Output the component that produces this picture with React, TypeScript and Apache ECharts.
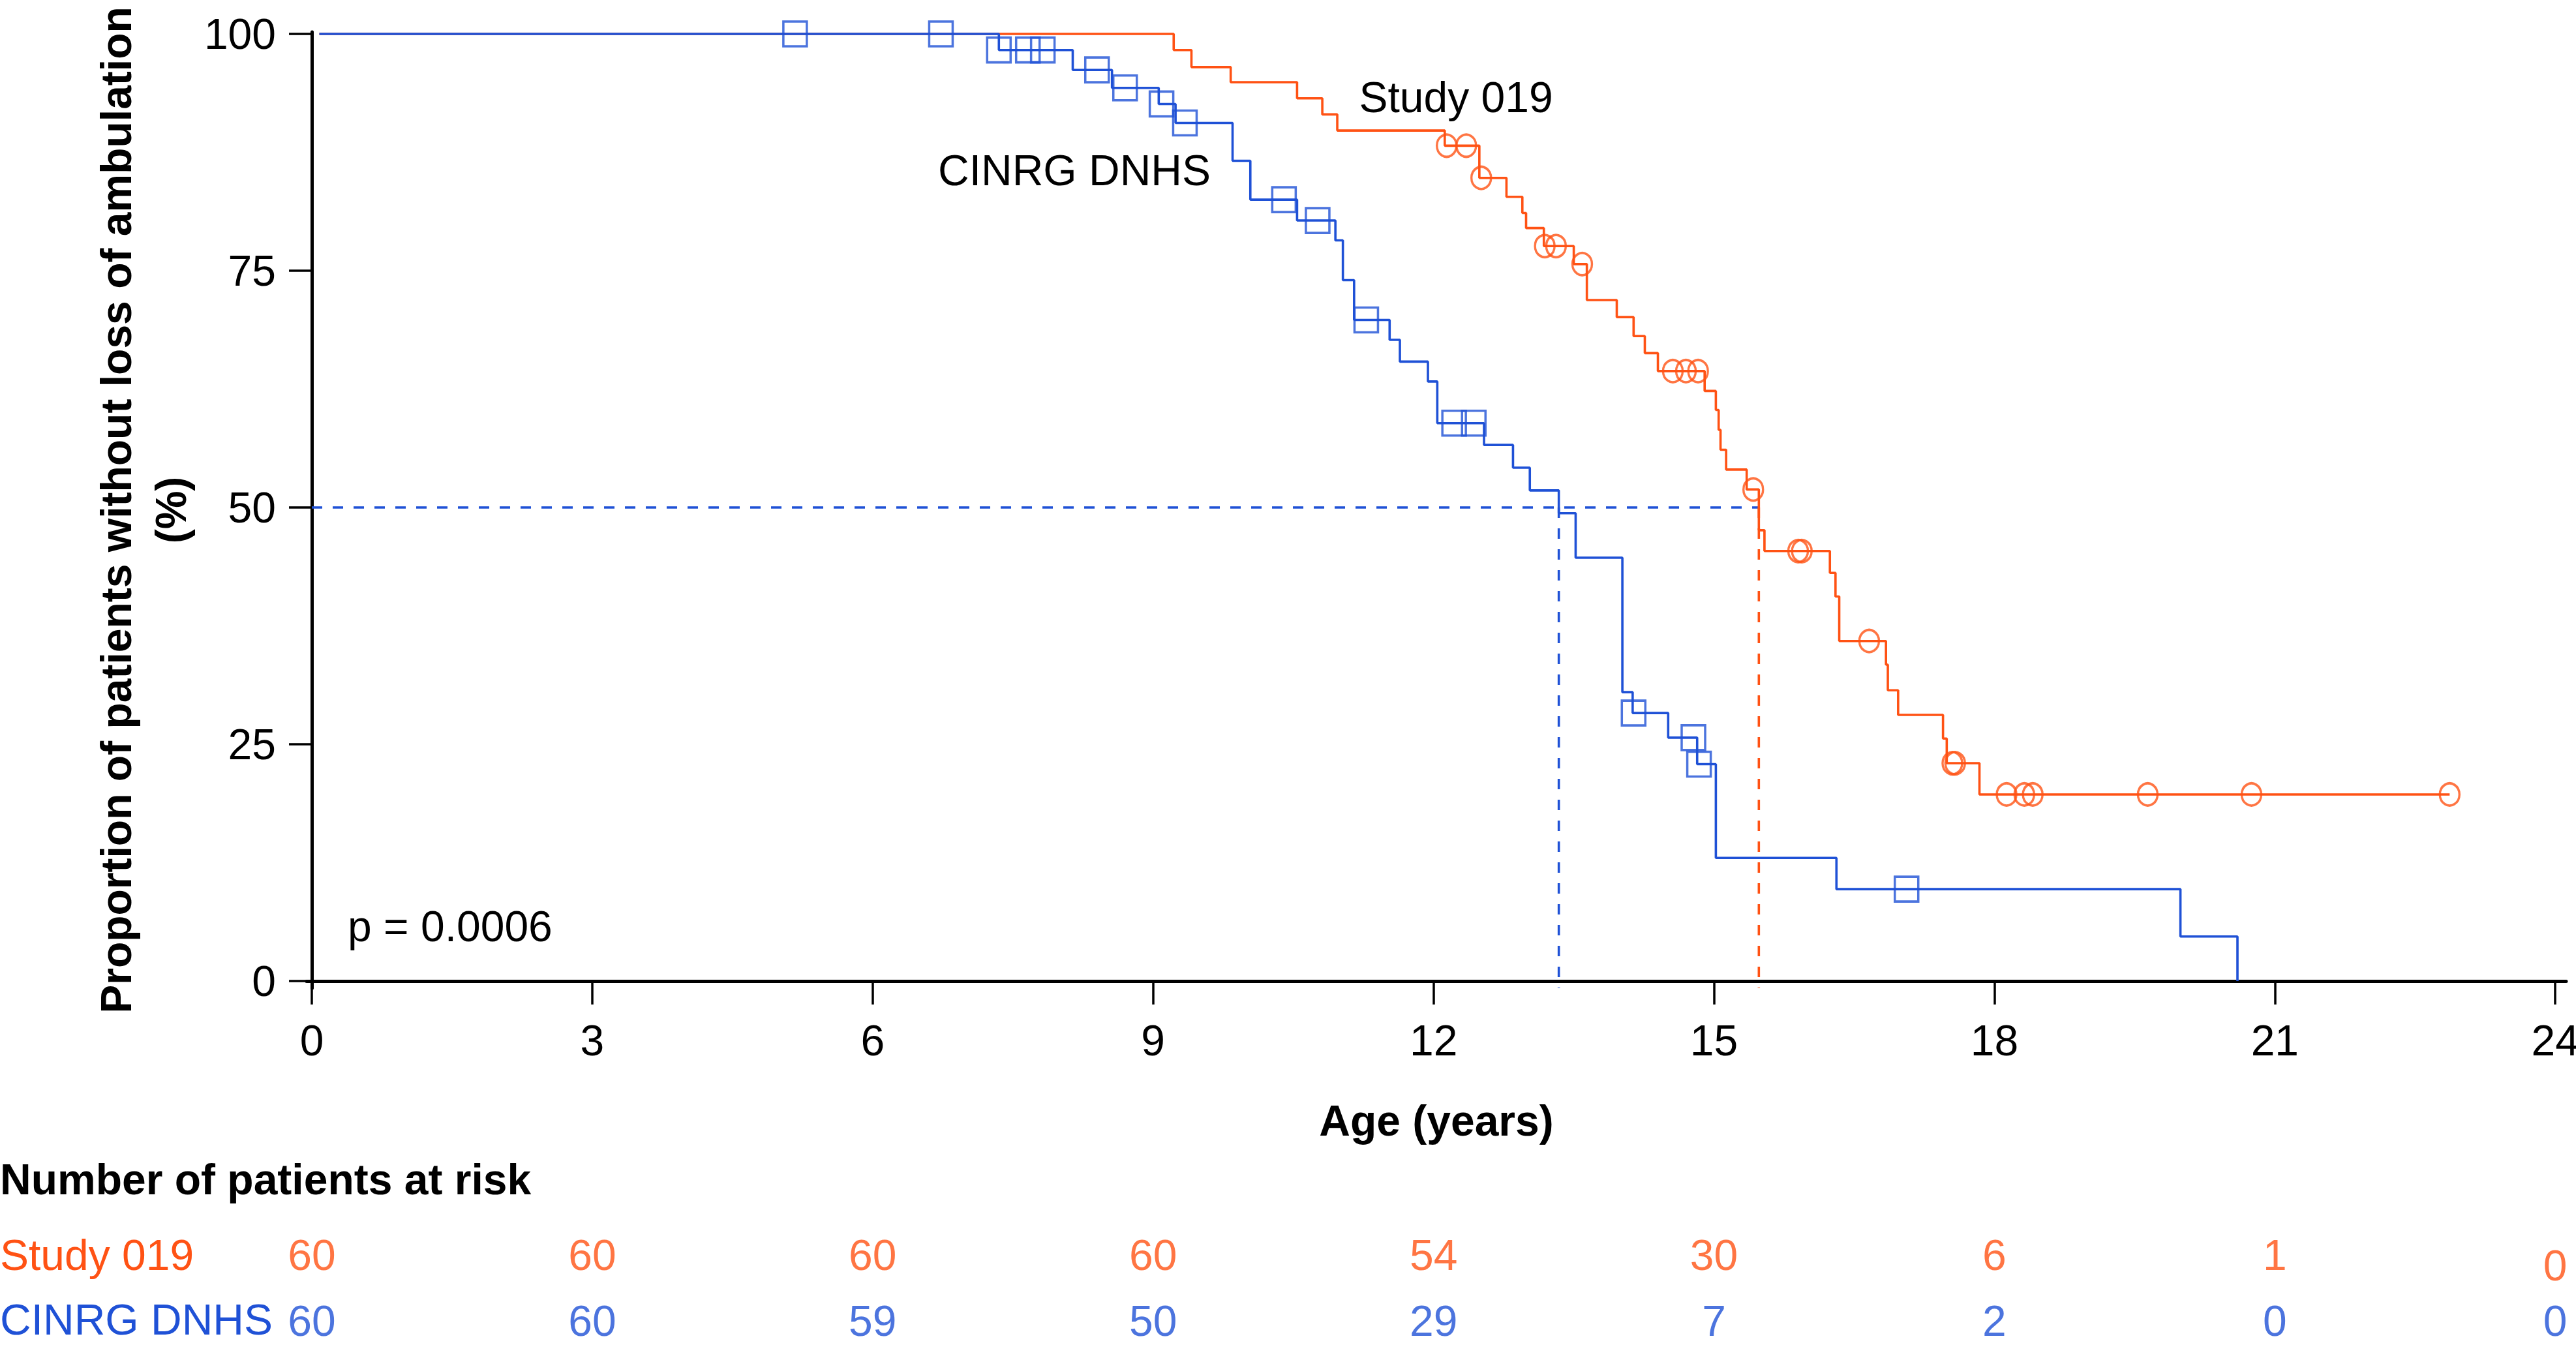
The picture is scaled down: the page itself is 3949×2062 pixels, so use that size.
import React, { useEffect, useRef } from "react";
import * as echarts from "echarts";

// ---------- data ----------
// Kaplan-Meier steps: time (years) and proportion (%) after each step
const CINRG_TIMES = [0.08, 7.35, 8.14, 8.56, 9.06, 9.24, 9.85, 10.04, 10.54, 10.95, 11.03, 11.15, 11.53, 11.64, 11.94, 12.04, 12.54, 12.85, 13.03, 13.34, 13.52, 14.02, 14.13, 14.51, 14.82, 15.02, 16.31, 19.99, 20.6];
const CINRG_SURV = [100, 98.3, 96.2, 94.3, 92.6, 90.6, 86.6, 82.5, 80.3, 78.2, 74.0, 69.8, 67.7, 65.4, 63.3, 58.9, 56.6, 54.2, 51.8, 49.4, 44.7, 30.5, 28.3, 25.7, 22.9, 13.0, 9.7, 4.7, 0];

const STUDY_TIMES = [0.08, 9.22, 9.41, 9.83, 10.54, 10.81, 10.97, 12.12, 12.49, 12.78, 12.95, 12.99, 13.18, 13.5, 13.64, 13.96, 14.14, 14.26, 14.4, 14.9, 15.02, 15.05, 15.07, 15.13, 15.35, 15.48, 15.54, 16.24, 16.3, 16.34, 16.84, 16.86, 16.97, 17.45, 17.49, 17.84, 22.87];
const STUDY_SURV = [100, 98.3, 96.5, 94.9, 93.2, 91.5, 89.8, 88.2, 84.8, 82.8, 81.1, 79.5, 77.6, 75.7, 71.9, 70.1, 68.1, 66.3, 64.4, 62.3, 60.3, 58.2, 56.1, 54.0, 51.9, 47.6, 45.4, 43.1, 40.6, 35.9, 33.4, 30.7, 28.1, 25.6, 23.0, 19.7, 19.7];

// censored observations
const CINRG_CENS_T = [5.17, 6.73, 7.35, 7.66, 7.82, 8.4, 8.7, 9.09, 9.34, 10.4, 10.76, 11.28, 12.22, 12.43, 14.14, 14.78, 14.84, 17.06];
const CINRG_CENS_S = [100, 100, 98.3, 98.3, 98.3, 96.2, 94.3, 92.6, 90.6, 82.5, 80.3, 69.8, 58.9, 58.9, 28.3, 25.7, 22.9, 9.7];

const STUDY_CENS_T = [12.14, 12.35, 12.51, 13.19, 13.31, 13.59, 14.56, 14.7, 14.83, 15.42, 15.9, 15.94, 16.66, 17.55, 17.58, 18.13, 18.32, 18.41, 19.64, 20.75, 22.87];
const STUDY_CENS_S = [88.2, 88.2, 84.8, 77.6, 77.6, 75.7, 64.4, 64.4, 64.4, 51.9, 45.4, 45.4, 35.9, 23.0, 23.0, 19.7, 19.7, 19.7, 19.7, 19.7, 19.7];

// medians
const MEDIAN_CINRG = 13.34;
const MEDIAN_STUDY = 15.48;
const MEDIAN_LEVEL = 50;

// axis ticks
const X_TICKS = [0, 3, 6, 9, 12, 15, 18, 21, 24];
const Y_TICKS = [0, 25, 50, 75, 100];

// number at risk
const RISK_TIMES = [0, 3, 6, 9, 12, 15, 18, 21, 24];
const RISK_STUDY = [60, 60, 60, 60, 54, 30, 6, 1, 0];
const RISK_CINRG = [60, 60, 59, 50, 29, 7, 2, 0, 0];

// ---------- styling ----------
const W = 3949;
const H = 2062;
const ORANGE = "#FF5214";
const BLUE = "#1F51D6";
const FONT = "'Liberation Sans', Arial, Helvetica, sans-serif";
const FS = 66;
const LW = 3.6;

const X_MIN = -0.056;
const X_MAX = 24.117;
const Y_MIN = -0.758;
const Y_MAX = 100.207;

function buildOption(): any {
  const pairs = (t: number[], s: number[]) => t.map((v, i) => [v, s[i]]);

  const axisCommon = {
    type: "value",
    splitLine: { show: false },
    axisLine: { show: true, lineStyle: { color: "#000", width: 5 } },
  };

  return {
    animation: false,
    backgroundColor: "#fff",
    grid: [
      { left: 470, right: 15, top: 49, bottom: 547, containLabel: false, outerBoundsMode: "none" },
      { left: 470, right: 15, top: 1923.5, bottom: 37.5, containLabel: false, outerBoundsMode: "none" },
    ],
    xAxis: [
      {
        ...axisCommon,
        gridIndex: 0,
        min: X_MIN,
        max: X_MAX,
        axisTick: { show: true, length: 36, lineStyle: { color: "#000", width: 3.5 }, customValues: X_TICKS },
        axisLabel: { show: true, customValues: X_TICKS, fontSize: FS, fontFamily: FONT, color: "#000", margin: 47 },
        name: "Age (years)",
        nameLocation: "middle",
        nameGap: 170,
        nameMoveOverlap: false,
        nameTextStyle: { fontSize: FS, fontWeight: "bold", fontFamily: FONT, color: "#000" },
      },
      {
        type: "value",
        gridIndex: 1,
        min: X_MIN,
        max: X_MAX,
        show: false,
      },
    ],
    yAxis: [
      {
        ...axisCommon,
        gridIndex: 0,
        min: Y_MIN,
        max: Y_MAX,
        axisTick: { show: true, length: 35, lineStyle: { color: "#000", width: 3.5 }, customValues: Y_TICKS },
        axisLabel: { show: true, customValues: Y_TICKS, fontSize: FS, fontFamily: FONT, color: "#000", margin: 47 },
        name: "Proportion of patients without loss of ambulation\n(%)",
        nameLocation: "middle",
        nameRotate: 90,
        nameGap: 166,
        nameMoveOverlap: false,
        nameTextStyle: { fontSize: FS, fontWeight: "bold", fontFamily: FONT, color: "#000", lineHeight: 84, align: "center" },
      },
      {
        type: "value",
        gridIndex: 1,
        min: 0,
        max: 1,
        show: false,
      },
    ],
    series: [
      {
        name: "median CINRG horizontal",
        type: "line",
        silent: true,
        data: [[0, MEDIAN_LEVEL], [MEDIAN_STUDY, MEDIAN_LEVEL]],
        showSymbol: false,
        lineStyle: { color: BLUE, width: LW, type: [16, 16] },
        z: 1,
      },
      {
        name: "median CINRG vertical",
        type: "line",
        silent: true,
        data: [[MEDIAN_CINRG, MEDIAN_LEVEL], [MEDIAN_CINRG, Y_MIN]],
        showSymbol: false,
        lineStyle: { color: BLUE, width: LW, type: [16, 16] },
        z: 1,
      },
      {
        name: "median Study 019 vertical",
        type: "line",
        silent: true,
        data: [[MEDIAN_STUDY, MEDIAN_LEVEL], [MEDIAN_STUDY, Y_MIN]],
        showSymbol: false,
        lineStyle: { color: ORANGE, width: LW, type: [16, 16] },
        z: 1,
      },
      {
        name: "Study 019",
        type: "line",
        silent: true,
        step: "end",
        data: pairs(STUDY_TIMES, STUDY_SURV),
        showSymbol: false,
        lineStyle: { color: ORANGE, width: LW },
        z: 2,
      },
      {
        name: "CINRG DNHS",
        type: "line",
        silent: true,
        step: "end",
        data: pairs(CINRG_TIMES, CINRG_SURV),
        showSymbol: false,
        lineStyle: { color: BLUE, width: LW },
        z: 3,
      },
      {
        name: "Study 019 censored",
        type: "scatter",
        silent: true,
        data: pairs(STUDY_CENS_T, STUDY_CENS_S),
        symbol: "circle",
        symbolSize: [30, 34],
        itemStyle: { color: "rgba(0,0,0,0)", borderColor: ORANGE, borderWidth: LW },
        z: 4,
      },
      {
        name: "CINRG DNHS censored",
        type: "scatter",
        silent: true,
        data: pairs(CINRG_CENS_T, CINRG_CENS_S),
        symbol: "rect",
        symbolSize: [36, 38],
        itemStyle: { color: "rgba(0,0,0,0)", borderColor: BLUE, borderWidth: LW },
        z: 5,
      },
      {
        name: "At risk Study 019",
        type: "scatter",
        silent: true,
        xAxisIndex: 1,
        yAxisIndex: 1,
        symbolSize: 1,
        itemStyle: { color: "rgba(0,0,0,0)" },
        data: RISK_TIMES.map((t, i) => {
          const item: any = { value: [t, 1, RISK_STUDY[i]] };
          if (i === RISK_TIMES.length - 1) item.label = { offset: [0, 16] };
          return item;
        }),
        label: {
          show: true,
          position: "inside",
          formatter: (p: any) => String(p.value[2]),
          color: ORANGE,
          fontSize: FS,
          fontFamily: FONT,
        },
      },
      {
        name: "At risk CINRG DNHS",
        type: "scatter",
        silent: true,
        xAxisIndex: 1,
        yAxisIndex: 1,
        symbolSize: 1,
        itemStyle: { color: "rgba(0,0,0,0)" },
        data: RISK_TIMES.map((t, i) => [t, 0, RISK_CINRG[i]]),
        label: {
          show: true,
          position: "inside",
          formatter: (p: any) => String(p.value[2]),
          color: BLUE,
          fontSize: FS,
          fontFamily: FONT,
        },
      },
    ],
    graphic: [
      {
        type: "text",
        x: 2232,
        y: 149,
        silent: true,
        style: { text: "Study 019", font: `${FS}px ${FONT}`, fill: "#000", align: "center", verticalAlign: "middle", textAlign: "center", textVerticalAlign: "middle" },
      },
      {
        type: "text",
        x: 1647,
        y: 261,
        silent: true,
        style: { text: "CINRG DNHS", font: `${FS}px ${FONT}`, fill: "#000", align: "center", verticalAlign: "middle", textAlign: "center", textVerticalAlign: "middle" },
      },
      {
        type: "text",
        x: 533,
        y: 1420,
        silent: true,
        style: { text: "p = 0.0006", font: `${FS}px ${FONT}`, fill: "#000", align: "left", verticalAlign: "middle", textAlign: "left", textVerticalAlign: "middle" },
      },
      {
        type: "text",
        x: 0,
        y: 1808,
        silent: true,
        style: { text: "Number of patients at risk", font: `bold ${FS}px ${FONT}`, fill: "#000", align: "left", verticalAlign: "middle", textAlign: "left", textVerticalAlign: "middle" },
      },
      {
        type: "text",
        x: 0,
        y: 1924,
        silent: true,
        style: { text: "Study 019", font: `${FS}px ${FONT}`, fill: ORANGE, align: "left", verticalAlign: "middle", textAlign: "left", textVerticalAlign: "middle" },
      },
      {
        type: "text",
        x: 0,
        y: 2023,
        silent: true,
        style: { text: "CINRG DNHS", font: `${FS}px ${FONT}`, fill: BLUE, align: "left", verticalAlign: "middle", textAlign: "left", textVerticalAlign: "middle" },
      },
    ],
  };
}

export default function App() {
  const ref = useRef<HTMLDivElement>(null);
  useEffect(() => {
    if (!ref.current) return;
    const chart = echarts.init(ref.current, null, { renderer: "svg", width: W, height: H });
    chart.setOption(buildOption());
    return () => {
      chart.dispose();
    };
  }, []);
  return (
    <div
      ref={ref}
      style={{ position: "fixed", left: 0, top: 0, width: W, height: H, background: "#fff" }}
    />
  );
}
